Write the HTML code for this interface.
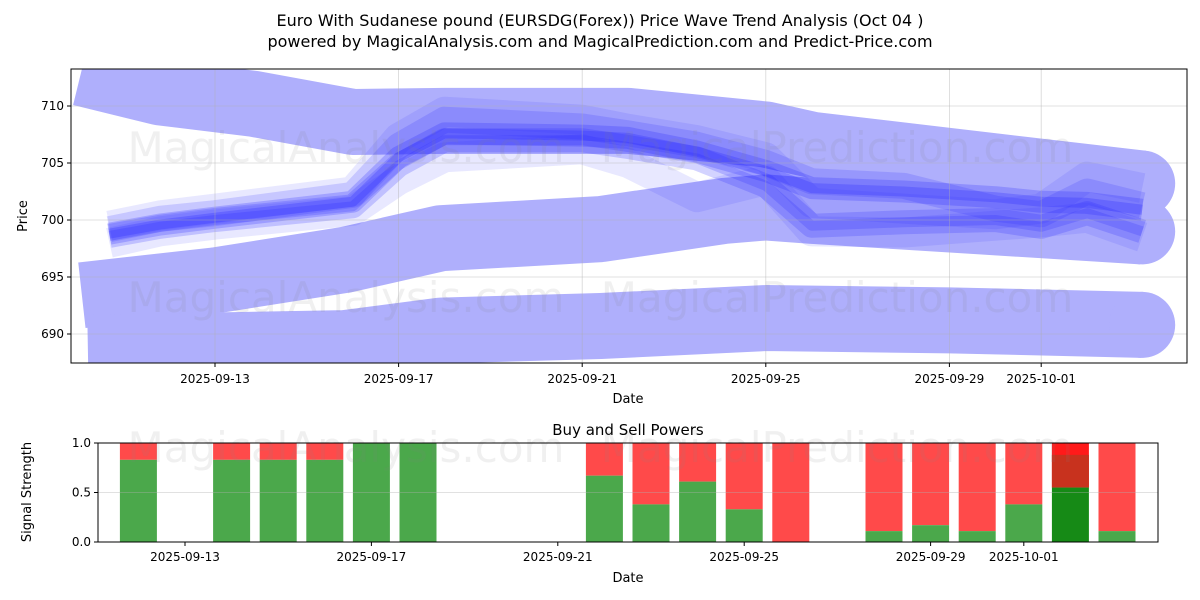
<!DOCTYPE html>
<html><head><meta charset="utf-8">
<style>
html,body{margin:0;padding:0;background:#fff;}
svg{display:block;font-family:"DejaVu Sans","Liberation Sans",sans-serif;}
</style></head>
<body>
<svg id="c" width="1200" height="600" viewBox="0 0 1200 600" xmlns="http://www.w3.org/2000/svg">
<text x="600" y="26" text-anchor="middle" font-size="16">Euro With Sudanese pound (EURSDG(Forex)) Price Wave Trend Analysis (Oct 04 )</text>
<text x="600" y="47" text-anchor="middle" font-size="16">powered by MagicalAnalysis.com and MagicalPrediction.com and Predict-Price.com</text>
<defs><clipPath id="clipTop"><rect x="71" y="69" width="1116" height="294"/></clipPath>
<clipPath id="clipBot"><rect x="98" y="443" width="1060" height="99"/></clipPath></defs>
<g id="topPanel"></g>
<g id="botPanel"></g>
</svg>
<script>
// ---- data (day offset from 2025-09-13) ----
const tickDays = [0, 4, 8, 12, 16, 18];
const tickLabels = ["2025-09-13","2025-09-17","2025-09-21","2025-09-25","2025-09-29","2025-10-01"];
const priceTicks = [690, 695, 700, 705, 710];
const band1Days = [-2.92, -1.2, 0.83, 3, 5, 9, 12, 13, 17, 20.2];
const band1Vals = [712.9, 711.2, 710.2, 708.6, 708.7, 708.7, 707.5, 706.6, 704.7, 703.2];
const band2Days = [-2.9, 0, 2.83, 4.92, 8.4, 11.1, 12, 13, 17, 20.2];
const band2Vals = [693.4, 694.7, 696.5, 698.4, 699.2, 700.8, 701.1, 700.8, 699.8, 699.0];
const band3Days = [-2.77, 2.83, 4.92, 8.4, 12, 16, 20.2];
const band3Vals = [688.8, 689.2, 690.3, 690.7, 691.4, 691.2, 690.8];
const waveDays = [-2.3, -1.2, 0, 3, 4, 5, 8, 9, 10.5, 12, 13, 15, 17, 18, 19, 20.2];
const waveA = [698.8, 699.6, 700.2, 701.6, 705.5, 707.6, 707.4, 707.2, 706.0, 704.3, 702.8, 702.5, 702.0, 701.6, 701.5, 700.9];
const waveB = [698.6, 699.4, 700.0, 701.2, 704.8, 707.0, 707.0, 706.4, 705.4, 703.0, 699.5, 699.8, 700.0, 699.4, 700.6, 699.0];
const waveC = [699.2, 700.1, 700.6, 702.2, 706.5, 708.8, 708.2, 707.6, 706.6, 705.0, 703.4, 703.0, 701.0, 700.5, 702.5, 701.3];
const waveD = [698.0, 699.0, 699.6, 700.8, 703.5, 705.5, 706.2, 705.0, 702.0, 703.5, 699.0, 698.9, 699.5, 699.8, 700.2, 698.5];
const waveE = [699.5, 700.4, 701.0, 702.5, 707.2, 709.5, 708.8, 708.0, 707.0, 705.5, 701.5, 701.0, 700.5, 701.0, 703.8, 702.8];
const barDays = [-1, 1, 2, 3, 4, 5, 9, 10, 11, 12, 13, 15, 16, 17, 18, 19, 20];
const buyVals = [0.83, 0.83, 0.83, 0.83, 1, 1, 0.67, 0.38, 0.61, 0.33, 0, 0.11, 0.17, 0.11, 0.38, 0.55, 0.11];
const sigTicks = [0, 0.5, 1];
const sigLabels = ["0.0", "0.5", "1.0"];
const midDarkDay = 19, midDarkTop = 0.88;

const NS = "http://www.w3.org/2000/svg";
const px = d => 215 + 45.9 * d;
const py = v => 106 + (710 - v) * 11.4;
const bx = d => 185 + 46.6 * d;
const by = v => 542 - v * 99;
function mk(parent, tag, attrs, text) {
  const e = document.createElementNS(NS, tag);
  for (const k in attrs) e.setAttribute(k, attrs[k]);
  if (text !== undefined) e.textContent = text;
  parent.appendChild(e);
  return e;
}
const topG = document.getElementById('topPanel');
const botG = document.getElementById('botPanel');

// ---- top panel ----
const plot = mk(topG, 'g', {'clip-path': 'url(#clipTop)'});
function band(days, vals, name) {
  const pts = days.map((d, i) => px(d) + ',' + py(vals[i])).join(' ');
  const p = mk(plot, 'polyline', {points: pts, fill: 'none', stroke: '#afaffc', 'stroke-width': 66, 'stroke-linejoin': 'round', 'stroke-linecap': 'butt'});
  
  
  const n = days.length - 1;
  const c = mk(plot, 'circle', {cx: px(days[n]), cy: py(vals[n]), r: 33, fill: '#afaffc'});
  
  
}
band(band1Days, band1Vals, 'upper-band');
band(band2Days, band2Vals, 'middle-band');
band(band3Days, band3Vals, 'lower-band');
const waves = [[waveD, 30, 0.10], [waveE, 30, 0.10], [waveC, 26, 0.16], [waveB, 24, 0.2], [waveA, 22, 0.22], [waveA, 10, 0.25], [waveB, 10, 0.2]];
waves.forEach((w) => {
  const pts = waveDays.map((d, j) => px(d) + ',' + py(w[0][j])).join(' ');
  const p = mk(plot, 'polyline', {points: pts, fill: 'none', stroke: '#2222ff', 'stroke-opacity': w[2], 'stroke-width': w[1], 'stroke-linejoin': 'round', 'stroke-linecap': 'butt'});
  
  
});
[[346, 162, 'MagicalAnalysis.com'], [837, 162, 'MagicalPrediction.com'], [346, 312, 'MagicalAnalysis.com'], [837, 312, 'MagicalPrediction.com']].forEach(w => {
  const t = mk(topG, 'text', {x: w[0], y: w[1], 'text-anchor': 'middle', 'font-size': 42, fill: '#808080', 'fill-opacity': 0.12}, w[2]);
  
  
});
tickDays.forEach(d => mk(topG, 'line', {x1: px(d), x2: px(d), y1: 69, y2: 363, stroke: '#b0b0b0', 'stroke-opacity': 0.5, 'stroke-width': 0.8}));
priceTicks.forEach(v => mk(topG, 'line', {x1: 71, x2: 1187, y1: py(v), y2: py(v), stroke: '#b0b0b0', 'stroke-opacity': 0.5, 'stroke-width': 0.8}));
const fr = mk(topG, 'rect', {x: 71, y: 69, width: 1116, height: 294, fill: 'none', stroke: '#000', 'stroke-width': 1});


tickDays.forEach((d, i) => {
  mk(topG, 'line', {x1: px(d), x2: px(d), y1: 363, y2: 367, stroke: '#000'});
  const t = mk(topG, 'text', {x: px(d), y: 383, 'text-anchor': 'middle', 'font-size': 12}, tickLabels[i]);
  
  
});
priceTicks.forEach(v => {
  mk(topG, 'line', {x1: 67, x2: 71, y1: py(v), y2: py(v), stroke: '#000'});
  const t = mk(topG, 'text', {x: 64, y: py(v) + 4, 'text-anchor': 'end', 'font-size': 12}, String(v));
  
  
});
let t = mk(topG, 'text', {x: 628, y: 403, 'text-anchor': 'middle', 'font-size': 13}, 'Date');


t = mk(topG, 'text', {x: 27, y: 216, 'text-anchor': 'middle', 'font-size': 13, transform: 'rotate(-90 27 216)'}, 'Price');



// ---- bottom panel ----
t = mk(botG, 'text', {x: 628, y: 435, 'text-anchor': 'middle', 'font-size': 15}, 'Buy and Sell Powers');


const bp = mk(botG, 'g', {'clip-path': 'url(#clipBot)'});
barDays.forEach((d, i) => {
  const x = bx(d) - 18.5, b = buyVals[i];
  const dark = d === midDarkDay;
  const s = mk(bp, 'rect', {x: x, y: by(1), width: 37, height: by(b) - by(1), fill: '#ff4a4a'});
  
  
  if (dark) {
    s.setAttribute('fill', '#ff1a1a');
    const m = mk(bp, 'rect', {x: x, y: by(midDarkTop), width: 37, height: by(b) - by(midDarkTop), fill: '#c8321e'});
    
    
  }
  const g = mk(bp, 'rect', {x: x, y: by(b), width: 37, height: by(0) - by(b), fill: dark ? '#168a16' : '#4ba84b'});
  
  
});
[[346, 462, 'MagicalAnalysis.com'], [837, 462, 'MagicalPrediction.com']].forEach(w => {
  const tt = mk(botG, 'text', {x: w[0], y: w[1], 'text-anchor': 'middle', 'font-size': 42, fill: '#808080', 'fill-opacity': 0.12}, w[2]);
  
  
});
mk(botG, 'line', {x1: 98, x2: 1158, y1: by(0.5), y2: by(0.5), stroke: '#b0b0b0', 'stroke-opacity': 0.5, 'stroke-width': 0.8});
const fr2 = mk(botG, 'rect', {x: 98, y: 443, width: 1060, height: 99, fill: 'none', stroke: '#000', 'stroke-width': 1});


tickDays.forEach((d, i) => {
  mk(botG, 'line', {x1: bx(d), x2: bx(d), y1: 542, y2: 546, stroke: '#000'});
  const tt = mk(botG, 'text', {x: bx(d), y: 561, 'text-anchor': 'middle', 'font-size': 12}, tickLabels[i]);
  
  
});
sigTicks.forEach((v, i) => {
  mk(botG, 'line', {x1: 94, x2: 98, y1: by(v), y2: by(v), stroke: '#000'});
  const tt = mk(botG, 'text', {x: 91, y: by(v) + 4, 'text-anchor': 'end', 'font-size': 12}, sigLabels[i]);
  
  
});
t = mk(botG, 'text', {x: 628, y: 582, 'text-anchor': 'middle', 'font-size': 13}, 'Date');


t = mk(botG, 'text', {x: 31, y: 492, 'text-anchor': 'middle', 'font-size': 13, transform: 'rotate(-90 31 492)'}, 'Signal Strength');


</script>
</body></html>
